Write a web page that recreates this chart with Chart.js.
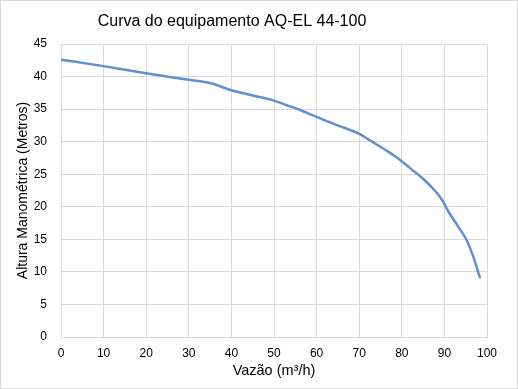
<!DOCTYPE html>
<html>
<head>
<meta charset="utf-8">
<script src="https://cdn.jsdelivr.net/npm/chart.js@4.4.0/dist/chart.umd.min.js"></script>
<style>
  html, body { margin: 0; padding: 0; background: #fff; }
  canvas { display: block; }
</style>
</head>
<body>
<canvas id="c" width="518" height="389"></canvas>
<script>
// Curva do equipamento - vazão x altura manométrica
const vazao  = [0, 10, 20, 30, 35, 40, 45, 50, 53, 56, 60, 65, 70, 73, 76, 79, 82, 85, 88, 89.5, 91, 93.3, 95.2, 96.8, 98.4];
const altura = [42.6, 41.6, 40.5, 39.5, 39.0, 37.9, 37.1, 36.3, 35.6, 34.9, 33.8, 32.5, 31.2, 30.0, 28.8, 27.5, 25.9, 24.3, 22.3, 21.0, 19.2, 16.9, 14.9, 12.3, 9.0];

const TITLE   = 'Curva do equipamento AQ-EL 44-100';
const X_TITLE = 'Vazão (m³/h)';
const Y_TITLE = 'Altura Manométrica (Metros)';

const FONT = "'Liberation Sans', Arial, sans-serif";
const GRID = '#d9d9d9';

// title + outer frame drawn by hand so the title can sit left of centre like the original
const framePlugin = {
  id: 'frame',
  afterDraw(chart) {
    const { ctx, width, height } = chart;
    ctx.save();
    ctx.strokeStyle = GRID;
    ctx.lineWidth = 1;
    ctx.strokeRect(0.5, 0.5, width - 1, height - 1);
    ctx.fillStyle = '#000';
    ctx.font = '16px ' + FONT;
    ctx.textAlign = 'center';
    ctx.textBaseline = 'alphabetic';
    ctx.fillText(TITLE, 232, 26);
    ctx.restore();
  }
};

new Chart(document.getElementById('c'), {
  type: 'scatter',
  data: {
    datasets: [{
      data: vazao.map((v, i) => ({ x: v, y: altura[i] })),
      showLine: true,
      borderColor: '#5f90cf',
      borderWidth: 2.5,
      pointRadius: 0,
      cubicInterpolationMode: 'monotone'
    }]
  },
  options: {
    responsive: false,
    animation: false,
    layout: { padding: { left: 0, right: 31, top: 44, bottom: 0 } },
    plugins: { legend: { display: false }, tooltip: { enabled: false } },
    scales: {
      x: {
        type: 'linear', min: 0, max: 100,
        afterFit: s => { s.height = 52; },
        grid: { color: GRID, drawTicks: false },
        border: { color: GRID },
        ticks: { stepSize: 10, padding: 9, color: '#000', font: { family: FONT, size: 12 } },
        title: { display: true, text: X_TITLE, color: '#000', font: { family: FONT, size: 14.5 }, padding: { top: 4, bottom: 9 } }
      },
      y: {
        min: 0, max: 45,
        afterFit: s => { s.width = 61; },
        grid: { color: GRID, drawTicks: false },
        border: { color: GRID },
        ticks: { stepSize: 5, padding: 14, color: '#000', font: { family: FONT, size: 12 } },
        title: { display: true, text: Y_TITLE, color: '#000', font: { family: FONT, size: 14 }, padding: { top: 15, bottom: 0 } }
      }
    }
  },
  plugins: [framePlugin]
});
</script>
</body>
</html>
